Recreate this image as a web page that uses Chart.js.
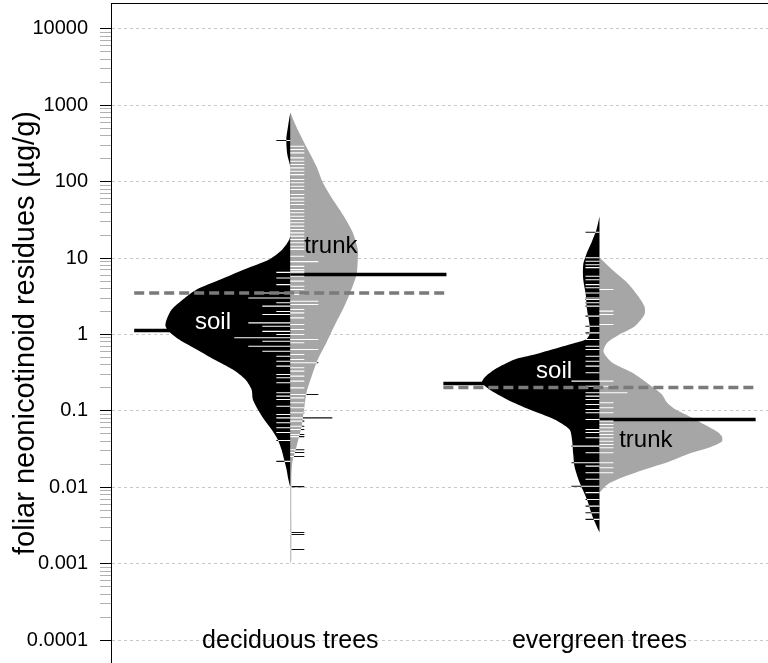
<!DOCTYPE html>
<html>
<head>
<meta charset="utf-8">
<title>Foliar neonicotinoid residues</title>
<script src="https://cdn.jsdelivr.net/npm/chart.js@4"></script>
<style>
  html, body { margin: 0; padding: 0; background: #fff; }
  #wrap { width: 768px; height: 663px; }
</style>
</head>
<body>
<div id="wrap"><canvas id="bean" width="768" height="663"></canvas></div>
<script>
// ---- data -------------------------------------------------------------
const categories = ['deciduous trees', 'evergreen trees'];
const groups = ['soil', 'trunk'];

// y-axis tick labels (decades)
const tickLabels = ['0.0001', '0.001', '0.01', '0.1', '1', '10', '100', '1000', '10000'];

// individual residue measurements (µg/g); repeated values are duplicates
const decidSoil = [346, 6.5, 5.5, 4.5, 3.5, 3.5, 3.0, 3.0, 3.0, 2.6, 2.35, 2.35, 2.0, 1.83, 1.83,
  1.42, 1.42, 1.42, 1.28, 1.28, 1.1, 1.1, 1.0, 0.905, 0.905, 0.905, 0.905, 0.817, 0.817,
  0.703, 0.703, 0.703, 0.604, 0.604, 0.52, 0.447, 0.385, 0.30, 0.271, 0.233, 0.173, 0.156,
  0.141, 0.115, 0.0897, 0.081, 0.070, 0.060, 0.052, 0.041, 0.0218];
const decidTrunk = [292, 264, 239, 205, 185, 168, 152, 137, 124, 107, 96.8, 87.3, 79, 68, 61.5,
  55.6, 50.3, 43.3, 39.2, 35.4, 32, 29, 26.2, 23.7, 21.4, 19.4, 17.5, 15.9, 14.3, 13, 10.6,
  9.0, 9.0, 7.8, 7.1, 6.74, 6.42, 5.8, 4.99, 4.29, 3.88, 3.34, 2.73, 2.73, 2.47, 2.47, 2.12,
  1.92, 1.65, 1.35, 1.16, 1.0, 0.86, 0.86, 0.778, 0.636, 0.636, 0.547, 0.471, 0.426, 0.426,
  0.367, 0.331, 0.285, 0.245, 0.2, 0.164, 0.164, 0.148, 0.128, 0.11, 0.0945, 0.081, 0.081,
  0.081, 0.0733, 0.063, 0.057, 0.049, 0.046, 0.031, 0.0285, 0.0253, 0.0102, 0.00256,
  0.00241, 0.00153];
const evergSoil = [21.8, 10.1, 9.1, 8.2, 7.5, 5.8, 5.2, 4.5, 4.1, 3.5, 3.0, 2.87, 2.6, 2.35, 1.74,
  1.28, 1.05, 0.86, 0.70, 0.636, 0.52, 0.447, 0.385, 0.315, 0.245, 0.245, 0.21, 0.173, 0.156,
  0.141, 0.121, 0.104, 0.0945, 0.077, 0.057, 0.052, 0.0445, 0.0345, 0.0345, 0.0283, 0.0209,
  0.0209, 0.0189, 0.0155, 0.0127, 0.0103, 0.0103, 0.0085, 0.0069, 0.00566, 0.00464, 0.0038];
const evergTrunk = [3.88, 2.02, 1.83, 1.35, 0.245, 0.21, 0.173, 0.173, 0.128, 0.11, 0.0945,
  0.0733, 0.0664, 0.060, 0.0542, 0.049, 0.0445, 0.0401, 0.0363, 0.0329, 0.0283, 0.0209,
  0.018, 0.0155];

// estimated density profiles: evaluation levels (µg/g) and relative density
const decidSoilAt = [805, 561, 357, 227, 153, 21.6, 17.5, 13, 9.6, 7.1, 5.25, 3.88, 2.87, 2.12,
  1.57, 1.31, 1.13, 0.86, 0.636, 0.471, 0.348, 0.258, 0.19, 0.141, 0.104, 0.077, 0.057, 0.042,
  0.031, 0.0231, 0.0171, 0.0127, 0.01];
const decidSoilDensity = [0, 0.016, 0.032, 0.024, 0, 0, 0.008, 0.064, 0.17, 0.37, 0.56, 0.75,
  0.86, 0.95, 0.99, 1.0, 0.98, 0.89, 0.75, 0.61, 0.46, 0.36, 0.31, 0.30, 0.26, 0.21, 0.15,
  0.10, 0.07, 0.05, 0.03, 0.016, 0];
const decidTrunkAt = [805, 561, 441, 264, 158, 97.6, 58.5, 35.1, 21.6, 13, 9.6, 6.1, 3.55, 2.12,
  1.27, 0.786, 0.471, 0.282, 0.174, 0.104, 0.0625, 0.0342, 0.0211, 0.0127, 0.00114, 0.00098];
const decidTrunkDensity = [0, 0.04, 0.07, 0.14, 0.21, 0.26, 0.34, 0.43, 0.50, 0.54, 0.54, 0.53,
  0.48, 0.42, 0.35, 0.29, 0.22, 0.17, 0.13, 0.11, 0.09, 0.05, 0.016, 0.008, 0.008, 0];
const evergSoilAt = [35.1, 23.7, 16, 11.8, 8.25, 5.25, 3.34, 2.12, 1.35, 1.0, 0.86, 0.74, 0.636,
  0.547, 0.471, 0.348, 0.274, 0.235, 0.19, 0.141, 0.104, 0.077, 0.057, 0.042, 0.0269, 0.0187,
  0.0116, 0.0069, 0.00415, 0.00256];
const evergSoilDensity = [0, 0.024, 0.064, 0.10, 0.13, 0.13, 0.11, 0.10, 0.08, 0.08, 0.11, 0.24,
  0.38, 0.52, 0.68, 0.84, 0.92, 0.94, 0.88, 0.74, 0.56, 0.36, 0.24, 0.22, 0.21, 0.20, 0.16,
  0.10, 0.056, 0];
const evergTrunkAt = [10.2, 7.1, 4.8, 3.34, 2.33, 1.83, 1.27, 1.0, 0.786, 0.599, 0.43, 0.318,
  0.209, 0.164, 0.129, 0.104, 0.0845, 0.0664, 0.0537, 0.0462, 0.0397, 0.0342, 0.0269, 0.0218,
  0.0171, 0.0138, 0.0109, 0.00855];
const evergTrunkDensity = [0, 0.10, 0.22, 0.30, 0.36, 0.36, 0.28, 0.16, 0.064, 0.032, 0.10,
  0.26, 0.42, 0.50, 0.54, 0.61, 0.72, 0.84, 0.94, 0.98, 0.98, 0.90, 0.70, 0.56, 0.36, 0.20,
  0.064, 0];

// group averages (µg/g)
const soilMean = [1.13, 0.228];
const trunkMean = [6.1, 0.077];
const overallMean = [3.5, 0.202];

// ---- layout / style constants ----------------------------------------
const X_MIN = 0.42, X_MAX = 2.545;
const BEAN_WIDTH = 0.404;     // x-units for relative density 1
const LINE_UNIT = 0.0453;     // bean-line length per observation
const AVG_SPAN = 0.505;       // half-span of the average lines
const Y_MIN = 5.0e-5, Y_MAX = 21880;
const SOIL_FILL = '#000000';
const TRUNK_FILL = '#a6a6a6';
const FONT = '"Liberation Sans", Arial, Helvetica, sans-serif';

const labelPlacement = [
  { text: 'soil',  x: 0.75,  y: 1.44,  color: '#ffffff' },
  { text: 'trunk', x: 1.131, y: 14.2,  color: '#000000' },
  { text: 'soil',  x: 1.853, y: 0.328, color: '#ffffff' },
  { text: 'trunk', x: 2.150, y: 0.041, color: '#000000' }
];

// ---- helpers ----------------------------------------------------------
function widthAt(at, dens, v) {
  const lv = Math.log10(v);
  for (let i = 0; i < at.length - 1; i++) {
    const a = Math.log10(at[i]), b = Math.log10(at[i + 1]);
    if (lv <= a && lv >= b) {
      const t = (a - lv) / (a - b);
      return (dens[i] + t * (dens[i + 1] - dens[i])) * BEAN_WIDTH;
    }
  }
  return 0;
}

function beanOutline(center, side, at, dens) {
  const pts = at.map((v, i) => ({ x: center + side * dens[i] * BEAN_WIDTH, y: v }));
  pts.push({ x: center, y: at[at.length - 1] });
  pts.push({ x: center, y: at[0] });
  return pts;
}

function beanLines(values, center, side, at, dens) {
  const counts = new Map();
  values.forEach(v => counts.set(v, (counts.get(v) || 0) + 1));
  const inside = [], outside = [];
  counts.forEach((n, v) => {
    const len = n * LINE_UNIT;
    const w = widthAt(at, dens, v);
    const inLen = Math.min(len, w);
    if (inLen > 0) {
      inside.push({ x: center, y: v }, { x: center + side * inLen, y: v }, { x: center, y: null });
    }
    if (len > w) {
      outside.push({ x: center + side * w, y: v }, { x: center + side * len, y: v }, { x: center, y: null });
    }
  });
  return { inside, outside };
}

const beans = [
  { center: 1, soil: decidSoil, soilAt: decidSoilAt, soilDens: decidSoilDensity,
    trunk: decidTrunk, trunkAt: decidTrunkAt, trunkDens: decidTrunkDensity },
  { center: 2, soil: evergSoil, soilAt: evergSoilAt, soilDens: evergSoilDensity,
    trunk: evergTrunk, trunkAt: evergTrunkAt, trunkDens: evergTrunkDensity }
];

const datasets = [];
const base = { pointRadius: 0, pointHoverRadius: 0, pointHitRadius: 0, spanGaps: false };

beans.forEach((b, i) => {
  // bean halves
  datasets.push(Object.assign({}, base, {
    label: categories[i] + ' ' + groups[0], data: beanOutline(b.center, -1, b.soilAt, b.soilDens),
    fill: 'shape', backgroundColor: SOIL_FILL, borderColor: 'rgba(0,0,0,0)', borderWidth: 0,
    tension: 0.25, order: 6
  }));
  datasets.push(Object.assign({}, base, {
    label: categories[i] + ' ' + groups[1], data: beanOutline(b.center, 1, b.trunkAt, b.trunkDens),
    fill: 'shape', backgroundColor: TRUNK_FILL, borderColor: 'rgba(0,0,0,0)', borderWidth: 0,
    tension: 0.25, order: 6
  }));
  // group averages
  datasets.push(Object.assign({}, base, {
    label: 'soil mean', data: [{ x: b.center - AVG_SPAN, y: soilMean[i] }, { x: b.center, y: soilMean[i] }],
    borderColor: '#000', borderWidth: 3.5, fill: false, order: 5
  }));
  datasets.push(Object.assign({}, base, {
    label: 'trunk mean', data: [{ x: b.center, y: trunkMean[i] }, { x: b.center + AVG_SPAN, y: trunkMean[i] }],
    borderColor: '#000', borderWidth: 3.5, fill: false, order: 5
  }));
  // bean lines (inside the bean: white, outside: black)
  const sl = beanLines(b.soil, b.center, -1, b.soilAt, b.soilDens);
  const tl = beanLines(b.trunk, b.center, 1, b.trunkAt, b.trunkDens);
  [sl, tl].forEach(set => {
    datasets.push(Object.assign({}, base, {
      label: 'lines in', data: set.inside, borderColor: '#ffffff', borderWidth: 1.1, fill: false, order: 3
    }));
    datasets.push(Object.assign({}, base, {
      label: 'lines out', data: set.outside, borderColor: '#111111', borderWidth: 1.1, fill: false, order: 3
    }));
  });
  // overall average
  datasets.push(Object.assign({}, base, {
    label: 'overall mean',
    data: [{ x: b.center - AVG_SPAN, y: overallMean[i] }, { x: b.center + AVG_SPAN, y: overallMean[i] }],
    borderColor: '#7a7a7a', borderWidth: 3.5, borderDash: [10, 5], fill: false, order: 1
  }));
});

// log-axis ticks: decades plus 2..9 minor ticks
const decades = tickLabels.map(Number);
const yTicks = [];
decades.forEach((d, i) => {
  yTicks.push(d);
  if (i < decades.length - 1) for (let m = 2; m <= 9; m++) yTicks.push(d * m);
});
function decadeIndex(v) {
  return decades.findIndex(d => Math.abs(Math.log10(v) - Math.log10(d)) < 1e-6);
}

const textPlugin = {
  id: 'beanText',
  afterDatasetsDraw(chart) {
    const { ctx, scales: { x, y } } = chart;
    ctx.save();
    ctx.textAlign = 'center';
    ctx.textBaseline = 'middle';
    ctx.font = '24px ' + FONT;
    labelPlacement.forEach(l => {
      ctx.fillStyle = l.color;
      ctx.fillText(l.text, x.getPixelForValue(l.x), y.getPixelForValue(l.y));
    });
    ctx.font = '25px ' + FONT;
    ctx.fillStyle = '#000';
    categories.forEach((c, i) => {
      ctx.fillText(c, x.getPixelForValue(i + 1), y.getPixelForValue(decades[0]) + 1);
    });
    ctx.restore();
  }
};

new Chart(document.getElementById('bean'), {
  type: 'line',
  data: { datasets },
  plugins: [textPlugin],
  options: {
    responsive: false,
    animation: false,
    devicePixelRatio: 1,
    events: [],
    layout: { autoPadding: false, padding: { top: 3, left: 0, right: 0, bottom: 0 } },
    plugins: { legend: { display: false }, tooltip: { enabled: false } },
    scales: {
      x: {
        type: 'linear', position: 'top', min: X_MIN, max: X_MAX,
        ticks: { display: false },
        grid: { display: false, drawTicks: false },
        border: { display: true, color: '#000', width: 1 },
        afterFit: s => { s.height = 0; s.paddingLeft = 0; s.paddingRight = 0; }
      },
      y: {
        type: 'logarithmic', position: 'left', min: Y_MIN, max: Y_MAX,
        afterBuildTicks: s => { s.ticks = yTicks.map(v => ({ value: v })); },
        afterFit: s => { s.width = 111; s.paddingTop = 0; s.paddingBottom = 0; },
        ticks: {
          autoSkip: false, padding: 12, color: '#000',
          font: { family: FONT, size: 20 },
          callback: v => { const k = decadeIndex(v); return k >= 0 ? tickLabels[k] : ''; }
        },
        grid: {
          tickLength: 11, lineWidth: 1,
          color: c => (c.tick && decadeIndex(c.tick.value) >= 0) ? '#c8c8c8' : 'rgba(0,0,0,0)',
          tickColor: c => (c.tick && decadeIndex(c.tick.value) >= 0) ? '#000' : '#b0b0b0'
        },
        border: { display: true, color: '#000', width: 1, dash: [3, 3] },
        title: {
          display: true, text: 'foliar neonicotinoid residues (µg/g)', color: '#000',
          font: { family: FONT, size: 29 }, padding: { top: 9, bottom: 0 }
        }
      }
    }
  }
});
</script>
</body>
</html>
